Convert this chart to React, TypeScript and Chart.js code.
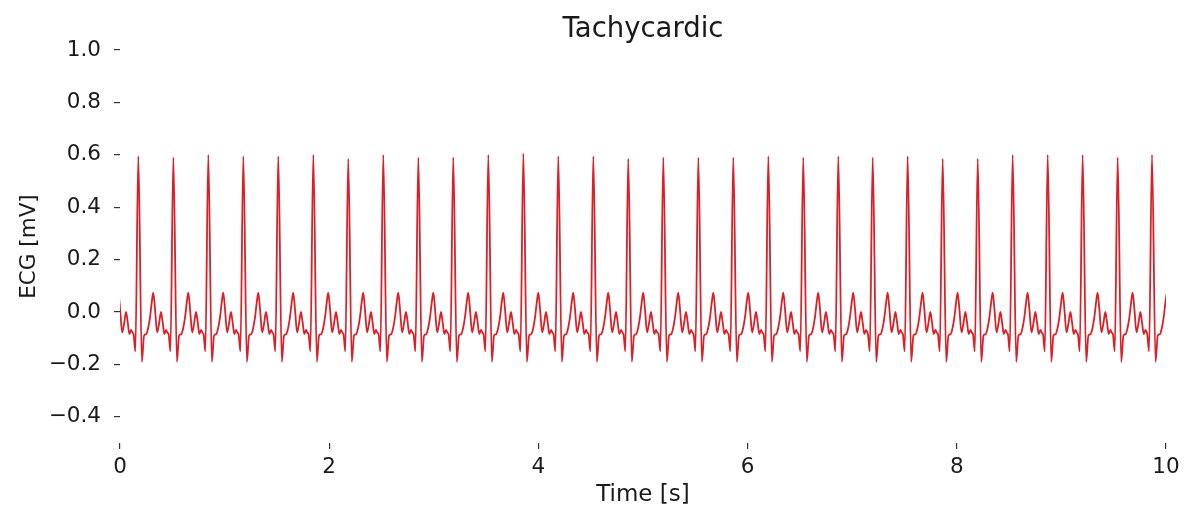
import { useEffect, useRef } from 'react';
import { Chart, registerables } from 'chart.js';

Chart.register(...registerables);

// R-peak times (s); the first one is the partly visible beat before t = 0
const beatTimes = [
  -0.159, 0.175, 0.51, 0.844, 1.179, 1.513, 1.848, 2.182, 2.517, 2.852, 3.186,
  3.521, 3.856, 4.19, 4.525, 4.859, 5.194, 5.529, 5.863, 6.198, 6.532,
  6.867, 7.196, 7.53, 7.865, 8.2, 8.534, 8.869, 9.203, 9.538, 9.866,
];
// R-peak amplitudes (mV) of each beat
const rPeaks = [
  0.6, 0.595, 0.59, 0.6, 0.595, 0.595, 0.6, 0.585, 0.6, 0.59, 0.59,
  0.6, 0.605, 0.595, 0.595, 0.585, 0.59, 0.59, 0.59, 0.595, 0.59,
  0.595, 0.59, 0.595, 0.585, 0.585, 0.6, 0.6, 0.6, 0.59, 0.6,
];
// One beat's shape: time from the R peak (s) and value (mV)
const beatOffsets = [
  -0.045, -0.028, 0, 0.034, 0.055, 0.075, 0.095, 0.112, 0.128, 0.143,
  0.16, 0.18, 0.2, 0.217, 0.233, 0.249, 0.265, 0.28,
];
const beatValues = [
  -0.085, -0.15, 0.6, -0.19, -0.09, -0.085, -0.06, -0.02, 0.035, 0.074,
  0.01, -0.078, -0.04, 0.0, -0.04, -0.084, -0.068, -0.08,
];
const rIndex = 2;

const xTicks = [0, 2, 4, 6, 8, 10];
const yTicks = [-0.4, -0.2, 0.0, 0.2, 0.4, 0.6, 0.8, 1.0];

const FONT = '"DejaVu Sans", "Liberation Sans", sans-serif';
const TEXT = '#1a1a1a';

export default function App() {
  const ref = useRef<HTMLCanvasElement | null>(null);

  useEffect(() => {
    if (!ref.current) return;
    const points: { x: number; y: number }[] = [];
    beatTimes.forEach((t, k) => {
      beatOffsets.forEach((dt, i) => {
        points.push({ x: t + dt, y: i === rIndex ? rPeaks[k] : beatValues[i] });
      });
    });

    const chart = new Chart(ref.current, {
      type: 'line',
      data: {
        datasets: [
          {
            data: points,
            borderColor: '#dc1f26',
            borderWidth: 1.8,
            pointRadius: 0,
            cubicInterpolationMode: 'monotone',
            fill: false,
          },
        ],
      },
      options: {
        responsive: false,
        animation: false,
        layout: { padding: { left: 0, right: 20, top: 0, bottom: 0 } },
        plugins: {
          legend: { display: false },
          tooltip: { enabled: false },
          title: {
            display: true,
            fullSize: false,
            text: 'Tachycardic',
            color: TEXT,
            font: { family: FONT, size: 27.5, weight: 'normal' },
            padding: { top: 13, bottom: 4 },
          },
        },
        scales: {
          x: {
            type: 'linear',
            min: 0,
            max: 10,
            afterBuildTicks: (s: any) => {
              s.ticks = xTicks.map((v) => ({ value: v }));
            },
            afterFit: (s: any) => {
              s.height = 71;
            },
            border: { display: false },
            grid: { drawOnChartArea: false, drawTicks: true, tickLength: 6, color: '#333', lineWidth: 1.2 },
            ticks: {
              color: TEXT,
              font: { family: FONT, size: 21.5 },
              padding: 6,
              maxRotation: 0,
              autoSkip: false,
              callback: (v: any) => String(v),
            },
            title: {
              display: true,
              text: 'Time [s]',
              color: TEXT,
              font: { family: FONT, size: 23 },
              padding: { top: 0, bottom: 5 },
            },
          },
          y: {
            type: 'linear',
            min: -0.5,
            max: 1.0,
            afterBuildTicks: (s: any) => {
              s.ticks = yTicks.map((v) => ({ value: v }));
            },
            afterFit: (s: any) => {
              s.width = 120;
            },
            border: { display: false },
            grid: { drawOnChartArea: false, drawTicks: true, tickLength: 6, color: '#333', lineWidth: 1.2 },
            ticks: {
              color: TEXT,
              font: { family: FONT, size: 21.5 },
              padding: 13,
              autoSkip: false,
              callback: (v: any) => {
                const n = Number(v);
                return n < 0 ? '\u2212' + Math.abs(n).toFixed(1) : n.toFixed(1);
              },
            },
            title: {
              display: true,
              text: 'ECG [mV]',
              color: TEXT,
              font: { family: FONT, size: 21.5 },
              padding: { top: 17, bottom: 0 },
            },
          },
        },
      },
    });
    return () => chart.destroy();
  }, []);

  return (
    <div style={{ position: 'fixed', left: 0, top: 0, width: 1186, height: 514, background: '#fff' }}>
      <canvas ref={ref} width={1186} height={514} />
    </div>
  );
}
